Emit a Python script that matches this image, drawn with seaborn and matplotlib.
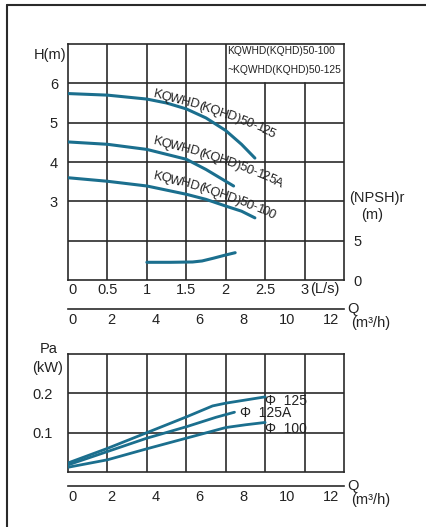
import matplotlib
matplotlib.use('Agg')
import matplotlib.pyplot as plt
import seaborn as sns
import numpy as np
from matplotlib.lines import Line2D
from matplotlib.font_manager import FontProperties
from matplotlib.textpath import TextToPath
from matplotlib.transforms import IdentityTransform

sns.set_theme(style='white')
plt.rcParams['font.family'] = ['Liberation Sans', 'DejaVu Sans']

# curvas H-Q (Q en L/s, H en m)
q_125 = [0, 0.5, 1.0, 1.25, 1.5, 1.75, 2.0, 2.2, 2.37]
h_125 = [5.74, 5.70, 5.60, 5.50, 5.35, 5.12, 4.80, 4.45, 4.10]
q_125a = [0, 0.5, 1.0, 1.5, 1.75, 2.0, 2.10]
h_125a = [4.51, 4.45, 4.32, 4.07, 3.81, 3.51, 3.39]
q_100 = [0, 0.5, 1.0, 1.5, 1.75, 2.0, 2.2, 2.37]
h_100 = [3.60, 3.51, 3.39, 3.18, 3.05, 2.88, 2.75, 2.58]

# NPSHr (m)
q_npsh = [1.0, 1.3, 1.58, 1.7, 1.84, 2.0, 2.12]
npsh = [2.25, 2.25, 2.29, 2.42, 2.76, 3.18, 3.47]

# potencia Pa (Q en m3/h, kW)
qm_125 = [0, 1.8, 3.6, 5.4, 6.6, 7.2, 9.0]
pa_125 = [0.023, 0.060, 0.100, 0.140, 0.168, 0.175, 0.191]
qm_125a = [0, 1.8, 3.6, 5.4, 6.75, 7.6]
pa_125a = [0.018, 0.052, 0.086, 0.115, 0.139, 0.152]
qm_100 = [0, 1.8, 3.6, 5.4, 7.2, 8.1, 9.0]
pa_100 = [0.012, 0.031, 0.059, 0.086, 0.113, 0.120, 0.126]

etiquetas_h = ['KQWHD(KQHD)50-125', 'KQWHD(KQHD)50-125A', 'KQWHD(KQHD)50-100']
etiquetas_pa = ['Φ  125', 'Φ  125A', 'Φ  100']

azul = '#1b6f8e'
negro = '#2a2a2a'
texto = '#222222'
W, H = 426, 527


def caja(x0, y0, x1, y1):
    return [x0 / W, 1 - y1 / H, (x1 - x0) / W, (y1 - y0) / H]


def fig_txt(x, y, s, **kw):
    # coordenadas en pixeles desde la esquina superior izquierda
    fig.text(x / W, 1 - y / H, s, fontsize=10.5, color=texto, **kw)


def texto_curvo(ax, x0, y0, s, a0, a1, size, apretar=0.93):
    # texto que se va inclinando de a0 a a1 grados
    prop = FontProperties(family='Liberation Sans', size=size)
    ttp = TextToPath()
    ancho = lambda t: ttp.get_text_width_height_descent(t, prop, ismath=False)[0] * 100 / 72 * apretar
    total = ancho(s)
    px, py = ax.transData.transform((x0, y0))
    paso = 0.5
    n = int(total / paso) + 2
    ss = np.arange(n) * paso
    ang = np.radians(a0 + (a1 - a0) * ss / total)
    xs = px + np.concatenate([[0], np.cumsum(np.cos(ang[:-1]) * paso)])
    ys = py + np.concatenate([[0], np.cumsum(np.sin(ang[:-1]) * paso)])
    for i, c in enumerate(s):
        sc = (ancho(s[:i]) + ancho(s[:i + 1])) / 2
        k = min(int(sc / paso), n - 1)
        ax.text(xs[k], ys[k], c, transform=IdentityTransform(), rotation=np.degrees(ang[k]),
                rotation_mode='anchor', ha='center', va='baseline', fontsize=size, color=texto)


fig = plt.figure(figsize=(W / 100, H / 100), dpi=100)

# marco exterior
fig.add_artist(Line2D([7 / W, 7 / W], [0, 1 - 5 / H], color=negro, lw=1.5))
fig.add_artist(Line2D([7 / W, 1], [1 - 5 / H, 1 - 5 / H], color=negro, lw=1.5))

# ---------- grafico H-Q ----------
ax = fig.add_axes(caja(68, 44, 344, 280))
ax.set_xlim(0, 3.5)
ax.set_ylim(1, 7)
for h in [2, 3, 4, 5, 6]:
    ax.axhline(h, color=negro, lw=1.2, zorder=1)
for q in [0.5, 1.0, 1.5, 2.0]:
    ax.axvline(q, color=negro, lw=1.2, zorder=1)
for q in [2.5, 3.0]:
    ax.plot([q, q], [1, 6], color=negro, lw=1.2, zorder=1)

for qq, hh in [(q_125, h_125), (q_125a, h_125a), (q_100, h_100)]:
    sns.lineplot(x=qq, y=hh, ax=ax, color=azul, lw=2.2, zorder=3)

ax.set_xticks([0, 0.5, 1, 1.5, 2, 2.5, 3])
ax.set_xticklabels(['0', '0.5', '1', '1.5', '2', '2.5', '3'])
ax.get_xticklabels()[0].set_ha('left')
ax.set_yticks([3, 4, 5, 6])
ax.tick_params(axis='x', length=0, pad=2.5, labelsize=10.5, colors=texto)
ax.tick_params(axis='y', length=0, pad=7.2, labelsize=10.5, colors=texto)
for s in ax.spines.values():
    s.set_color(negro)
    s.set_linewidth(1.2)
ax.set_xlabel('')
ax.set_ylabel('')

ax.text(2.02, 6.83, 'KQWHD(KQHD)50-100', ha='left', va='center', fontsize=7.4, color=texto)
ax.text(2.02, 6.33, '~KQWHD(KQHD)50-125', ha='left', va='center', fontsize=7.4, color=texto)

pos_et = [(1.075, 5.64), (1.075, 4.45), (1.075, 3.57)]
for (x, y), t in zip(pos_et, etiquetas_h):
    texto_curvo(ax, x, y, t, -12, -25, 9.4)

# NPSHr en eje derecho
ax2 = ax.twinx()
ax2.set_ylim(0, 30)
sns.lineplot(x=q_npsh, y=npsh, ax=ax2, color=azul, lw=2.2)
ax2.set_yticks([0, 5])
ax2.tick_params(axis='y', length=0, pad=6.5, labelsize=10.5, colors=texto)
for s in ax2.spines.values():
    s.set_visible(False)
ax2.set_ylabel('')


# eje Q en m3/h
def eje_q(y_px):
    axq = fig.add_axes([68 / W, 1 - y_px / H, 276 / W, 1e-5])
    axq.set_xlim(0, 12.6)
    axq.set_xticks(range(0, 13, 2))
    axq.set_yticks([])
    axq.tick_params(axis='x', direction='in', length=3, width=1.2, pad=3,
                    labelsize=10.5, colors=texto)
    axq.get_xticklabels()[0].set_ha('left')
    axq.patch.set_visible(False)
    for k in ['top', 'left', 'right']:
        axq.spines[k].set_visible(False)
    axq.spines['bottom'].set_color(negro)
    axq.spines['bottom'].set_linewidth(1.2)
    fig_txt(353, y_px, 'Q', ha='center', va='center')
    fig_txt(371, y_px + 14, '(m³/h)', ha='center', va='center')


eje_q(309)

fig_txt(66, 55, 'H(m)', ha='right', va='center')
fig_txt(325, 289, '(L/s)', ha='center', va='center')
fig_txt(377, 198, '(NPSH)r', ha='center', va='center')
fig_txt(372, 215, '(m)', ha='center', va='center')

# ---------- grafico Pa-Q ----------
bx = fig.add_axes(caja(68, 354, 344, 472))
bx.set_xlim(0, 12.6)
bx.set_ylim(0, 0.3)
for p in [0.1, 0.2]:
    bx.axhline(p, color=negro, lw=1.2, zorder=1)
for q in [1.8, 3.6, 5.4, 7.2, 9.0, 10.8]:
    bx.axvline(q, color=negro, lw=1.2, zorder=1)
for qq, pp in [(qm_125, pa_125), (qm_125a, pa_125a), (qm_100, pa_100)]:
    sns.lineplot(x=qq, y=pp, ax=bx, color=azul, lw=2.0, zorder=3)
bx.set_xticks([])
bx.set_yticks([0.1, 0.2])
bx.set_yticklabels(['0.1', '0.2'])
bx.tick_params(axis='y', length=0, pad=10.8, labelsize=10.5, colors=texto)
for s in bx.spines.values():
    s.set_color(negro)
    s.set_linewidth(1.2)
bx.set_xlabel('')
bx.set_ylabel('')

fig_txt(49, 349, 'Pa', ha='center', va='center')
fig_txt(48, 368, '(kW)', ha='center', va='center')

pos_pa = [(9.0, 0.181), (7.85, 0.150), (9.0, 0.110)]
for (x, y), t in zip(pos_pa, etiquetas_pa):
    bx.text(x, y, t, ha='left', va='center', fontsize=10, color=texto)

eje_q(486)

plt.savefig('out.png', dpi=100)
plt.close()
